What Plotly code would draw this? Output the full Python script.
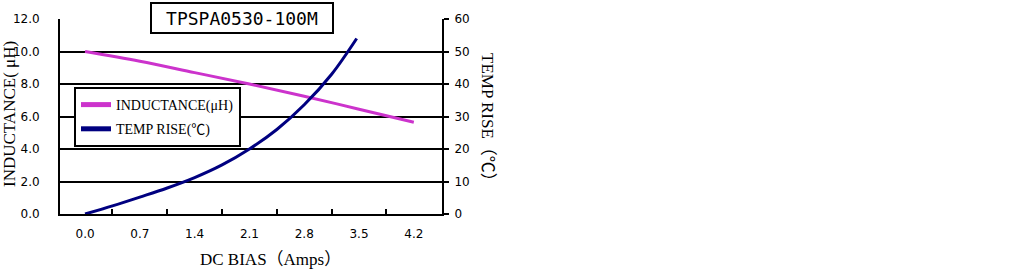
import plotly.graph_objects as go

# Data
ind_x = [0.0, 0.7, 1.4, 2.1, 2.8, 3.5, 4.2]
ind_y = [10.0, 9.4, 8.7, 8.0, 7.25, 6.45, 5.65]

temp_x = [0.0, 0.35, 0.7, 1.05, 1.4, 1.75, 2.1, 2.45, 2.8, 3.15, 3.47]
temp_y = [0.0, 2.5, 5.2, 8.0, 11.2, 15.1, 20.0, 26.0, 33.6, 43.0, 54.0]

x_ticks = [0.0, 0.7, 1.4, 2.1, 2.8, 3.5, 4.2]
x_tick_labels = ["0.0", "0.7", "1.4", "2.1", "2.8", "3.5", "4.2"]
x_boundaries = [0.35, 1.05, 1.75, 2.45, 3.15, 3.85]
left_ticks = [0, 2, 4, 6, 8, 10, 12]
left_tick_labels = ["0.0", "2.0", "4.0", "6.0", "8.0", "10.0", "12.0"]
right_ticks = [0, 10, 20, 30, 40, 50, 60]

title_text = "TPSPA0530-100M"
ind_name = "INDUCTANCE(μH)"
temp_name = "TEMP RISE(℃)"

SERIF = "Liberation Serif, Noto Sans CJK JP"
SANS = "DejaVu Sans"

fig = go.Figure()
fig.add_trace(go.Scatter(
    x=ind_x, y=ind_y, name=ind_name, mode="lines",
    line=dict(color="#CC33CC", width=3, shape="spline"),
    xaxis="x", yaxis="y", legendgroup="ind",
))
fig.add_trace(go.Scatter(
    x=temp_x, y=temp_y, name=temp_name, mode="lines",
    line=dict(color="#000080", width=3, shape="spline"),
    xaxis="x2", yaxis="y2", legendgroup="temp",
))

xr = [-0.32, 4.56]
fig.update_layout(
    width=1029, height=270,
    margin=dict(l=60, r=587, t=19, b=56),
    paper_bgcolor="white", plot_bgcolor="white",
    showlegend=True,
    hovermode=False,
    xaxis=dict(
        range=xr, tickvals=x_ticks, ticktext=x_tick_labels,
        ticks="", showline=True, linecolor="black", linewidth=2,
        showgrid=False, zeroline=False,
        tickfont=dict(family=SANS, size=12, color="black"),
        ticklabelstandoff=8,
    ),
    xaxis2=dict(
        range=xr, overlaying="x", anchor="y", side="bottom",
        tickvals=x_boundaries, ticks="inside", ticklen=5, tickwidth=2,
        tickcolor="black", showticklabels=False, showgrid=False,
        zeroline=False, showline=False,
    ),
    yaxis=dict(
        range=[0, 12], tickvals=left_ticks, ticktext=left_tick_labels,
        ticks="", showline=True, linecolor="black", linewidth=2,
        showgrid=True, gridcolor="black", gridwidth=2, zeroline=False,
        tickfont=dict(family=SANS, size=12, color="black"),
        ticklabelstandoff=16,
    ),
    yaxis2=dict(
        range=[0, 60], tickvals=right_ticks, overlaying="y", side="right",
        anchor="x", ticks="outside", ticklen=5, tickwidth=2,
        tickcolor="black", showline=True, linecolor="black", linewidth=2,
        showgrid=False, zeroline=False,
        tickfont=dict(family=SANS, size=12, color="black"),
        ticklabelstandoff=3,
    ),
    legend=dict(
        x=(74 - 60) / 382, y=(214 - 87) / 195, xanchor="left", yanchor="top",
        bgcolor="white", bordercolor="black", borderwidth=2,
        font=dict(family=SERIF, size=14, color="black"),
        itemsizing="constant", tracegroupgap=3,
    ),
    annotations=[
        dict(text=title_text, xref="paper", yref="paper",
             x=(242 - 60) / 382, y=(214 - 18) / 195,
             xanchor="center", yanchor="middle", showarrow=False,
             font=dict(family="DejaVu Sans Mono", size=18, color="black"),
             bgcolor="white", bordercolor="black", borderwidth=2,
             borderpad=2, width=176, height=24),
        dict(text="INDUCTANCE( μH)", xref="paper", yref="paper",
             x=(9 - 60) / 382, y=(214 - 114) / 195, textangle=-90,
             xanchor="center", yanchor="middle", showarrow=False,
             font=dict(family=SERIF, size=17, color="black")),
        dict(text="TEMP RISE（℃）", xref="paper", yref="paper",
             x=(487 - 60) / 382, y=(214 - 121) / 195, textangle=90,
             xanchor="center", yanchor="middle", showarrow=False,
             font=dict(family=SERIF, size=17, color="black")),
        dict(text="DC BIAS（Amps）", xref="paper", yref="paper",
             x=(270 - 60) / 382, y=(214 - 259) / 195,
             xanchor="center", yanchor="middle", showarrow=False,
             font=dict(family=SERIF, size=17, color="black")),
    ],
)

fig.write_html("out.html")
